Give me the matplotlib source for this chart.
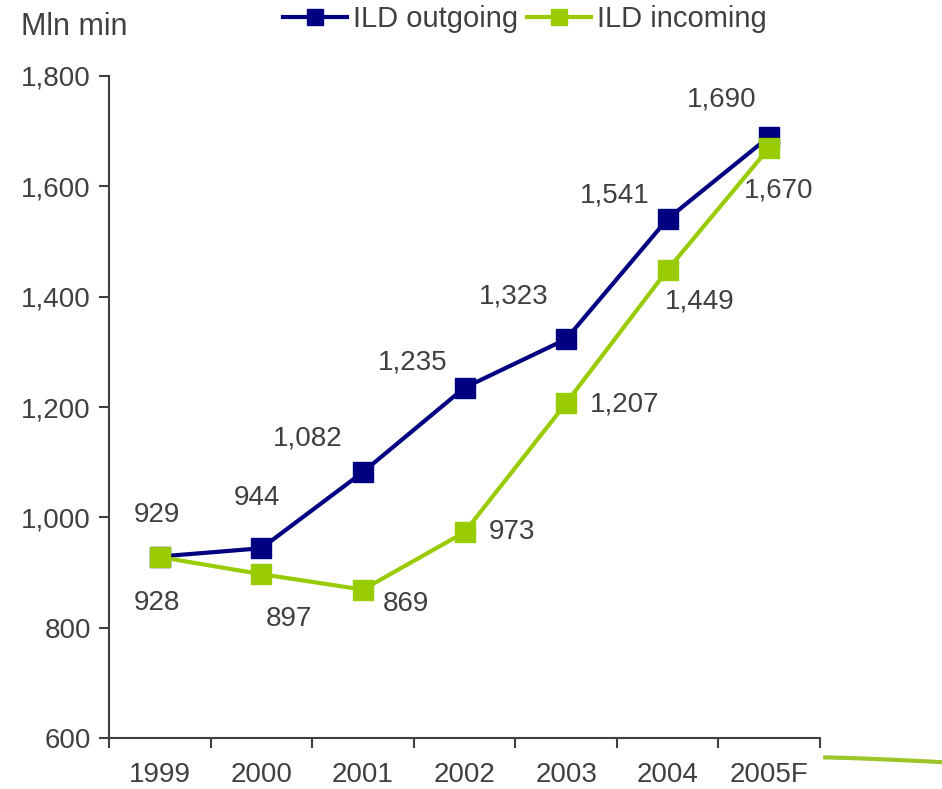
import matplotlib
matplotlib.use("Agg")
import matplotlib.pyplot as plt
from matplotlib.lines import Line2D
import numpy as np

plt.rcParams['font.family'] = ['Liberation Sans', 'DejaVu Sans']

years = ["1999", "2000", "2001", "2002", "2003", "2004", "2005F"]
outgoing = [929, 944, 1082, 1235, 1323, 1541, 1690]
incoming = [928, 897, 869, 973, 1207, 1449, 1670]

# label offsets in points (dx, dy) from each marker
out_offsets = [(-2, 30), (-3, 36), (-40, 24), (-37, 18), (-38, 31), (-38, 17), (-34, 27)]
in_offsets = [(-2, -33), (20, -32), (31, -10), (34, 0), (42, -1), (23, -23), (7, -31)]

navy = "#000080"
green = "#99CC00"
grey = "#404040"

fig = plt.figure(figsize=(9.42, 7.89), dpi=100)
ax = fig.add_axes([0.1157, 0.0646, 0.7548, 0.8391])

x = np.arange(len(years))
ax.plot(x, outgoing, color=navy, lw=3, marker="s", ms=15, label="ILD outgoing", zorder=3)
ax.plot(x, incoming, color=green, lw=3, marker="s", ms=15, label="ILD incoming", zorder=4)

def fmt(v):
    return f"{v:,}"

for xi, v, (dx, dy) in zip(x, outgoing, out_offsets):
    ax.annotate(fmt(v), (xi, v), xytext=(dx, dy), textcoords="offset points",
                ha="center", va="center", fontsize=20, color=grey)
for xi, v, (dx, dy) in zip(x, incoming, in_offsets):
    ax.annotate(fmt(v), (xi, v), xytext=(dx, dy), textcoords="offset points",
                ha="center", va="center", fontsize=20, color=grey)

ax.set_xlim(-0.5, len(years) - 0.5)
ax.set_ylim(600, 1800)
ax.set_yticks(range(600, 1801, 200))
ax.set_yticklabels([fmt(v) for v in range(600, 1801, 200)])

# category labels at centers, tick marks at boundaries
ax.set_xticks(x)
ax.set_xticklabels(years)
ax.set_xticks(np.arange(-0.5, len(years)), minor=True)
ax.tick_params(axis="x", which="major", length=0, pad=17, labelsize=20, colors=grey)
ax.tick_params(axis="x", which="minor", length=7, width=1.5, color=grey, direction="out")
ax.tick_params(axis="y", length=7, width=1.5, color=grey, labelsize=20, labelcolor=grey, pad=6)

for s in ["top", "right"]:
    ax.spines[s].set_visible(False)
for s in ["left", "bottom"]:
    ax.spines[s].set_color(grey)
    ax.spines[s].set_linewidth(1.5)

fig.text(0.022, 0.966, "Mln min", fontsize=22, color=grey, ha="left", va="center")

handles = [Line2D([], [], color=navy, lw=3, marker="s", ms=12),
           Line2D([], [], color=green, lw=3, marker="s", ms=12)]
fig.legend(handles, ["ILD outgoing", "ILD incoming"], loc="center", bbox_to_anchor=(0.557, 0.976),
           ncol=2, frameon=False, fontsize=21, handlelength=2.2, handletextpad=0.2,
           columnspacing=0.3, labelcolor=grey)

# swoosh at the lower right corner
sx = np.linspace(0.876, 1.0, 30)
sy = 0.040 - 0.006 * ((sx - 0.876) / 0.124) ** 1.3
fig.add_artist(Line2D(sx, sy, transform=fig.transFigure, color="#9BC62A", lw=3))

fig.savefig("out.png", dpi=100)
